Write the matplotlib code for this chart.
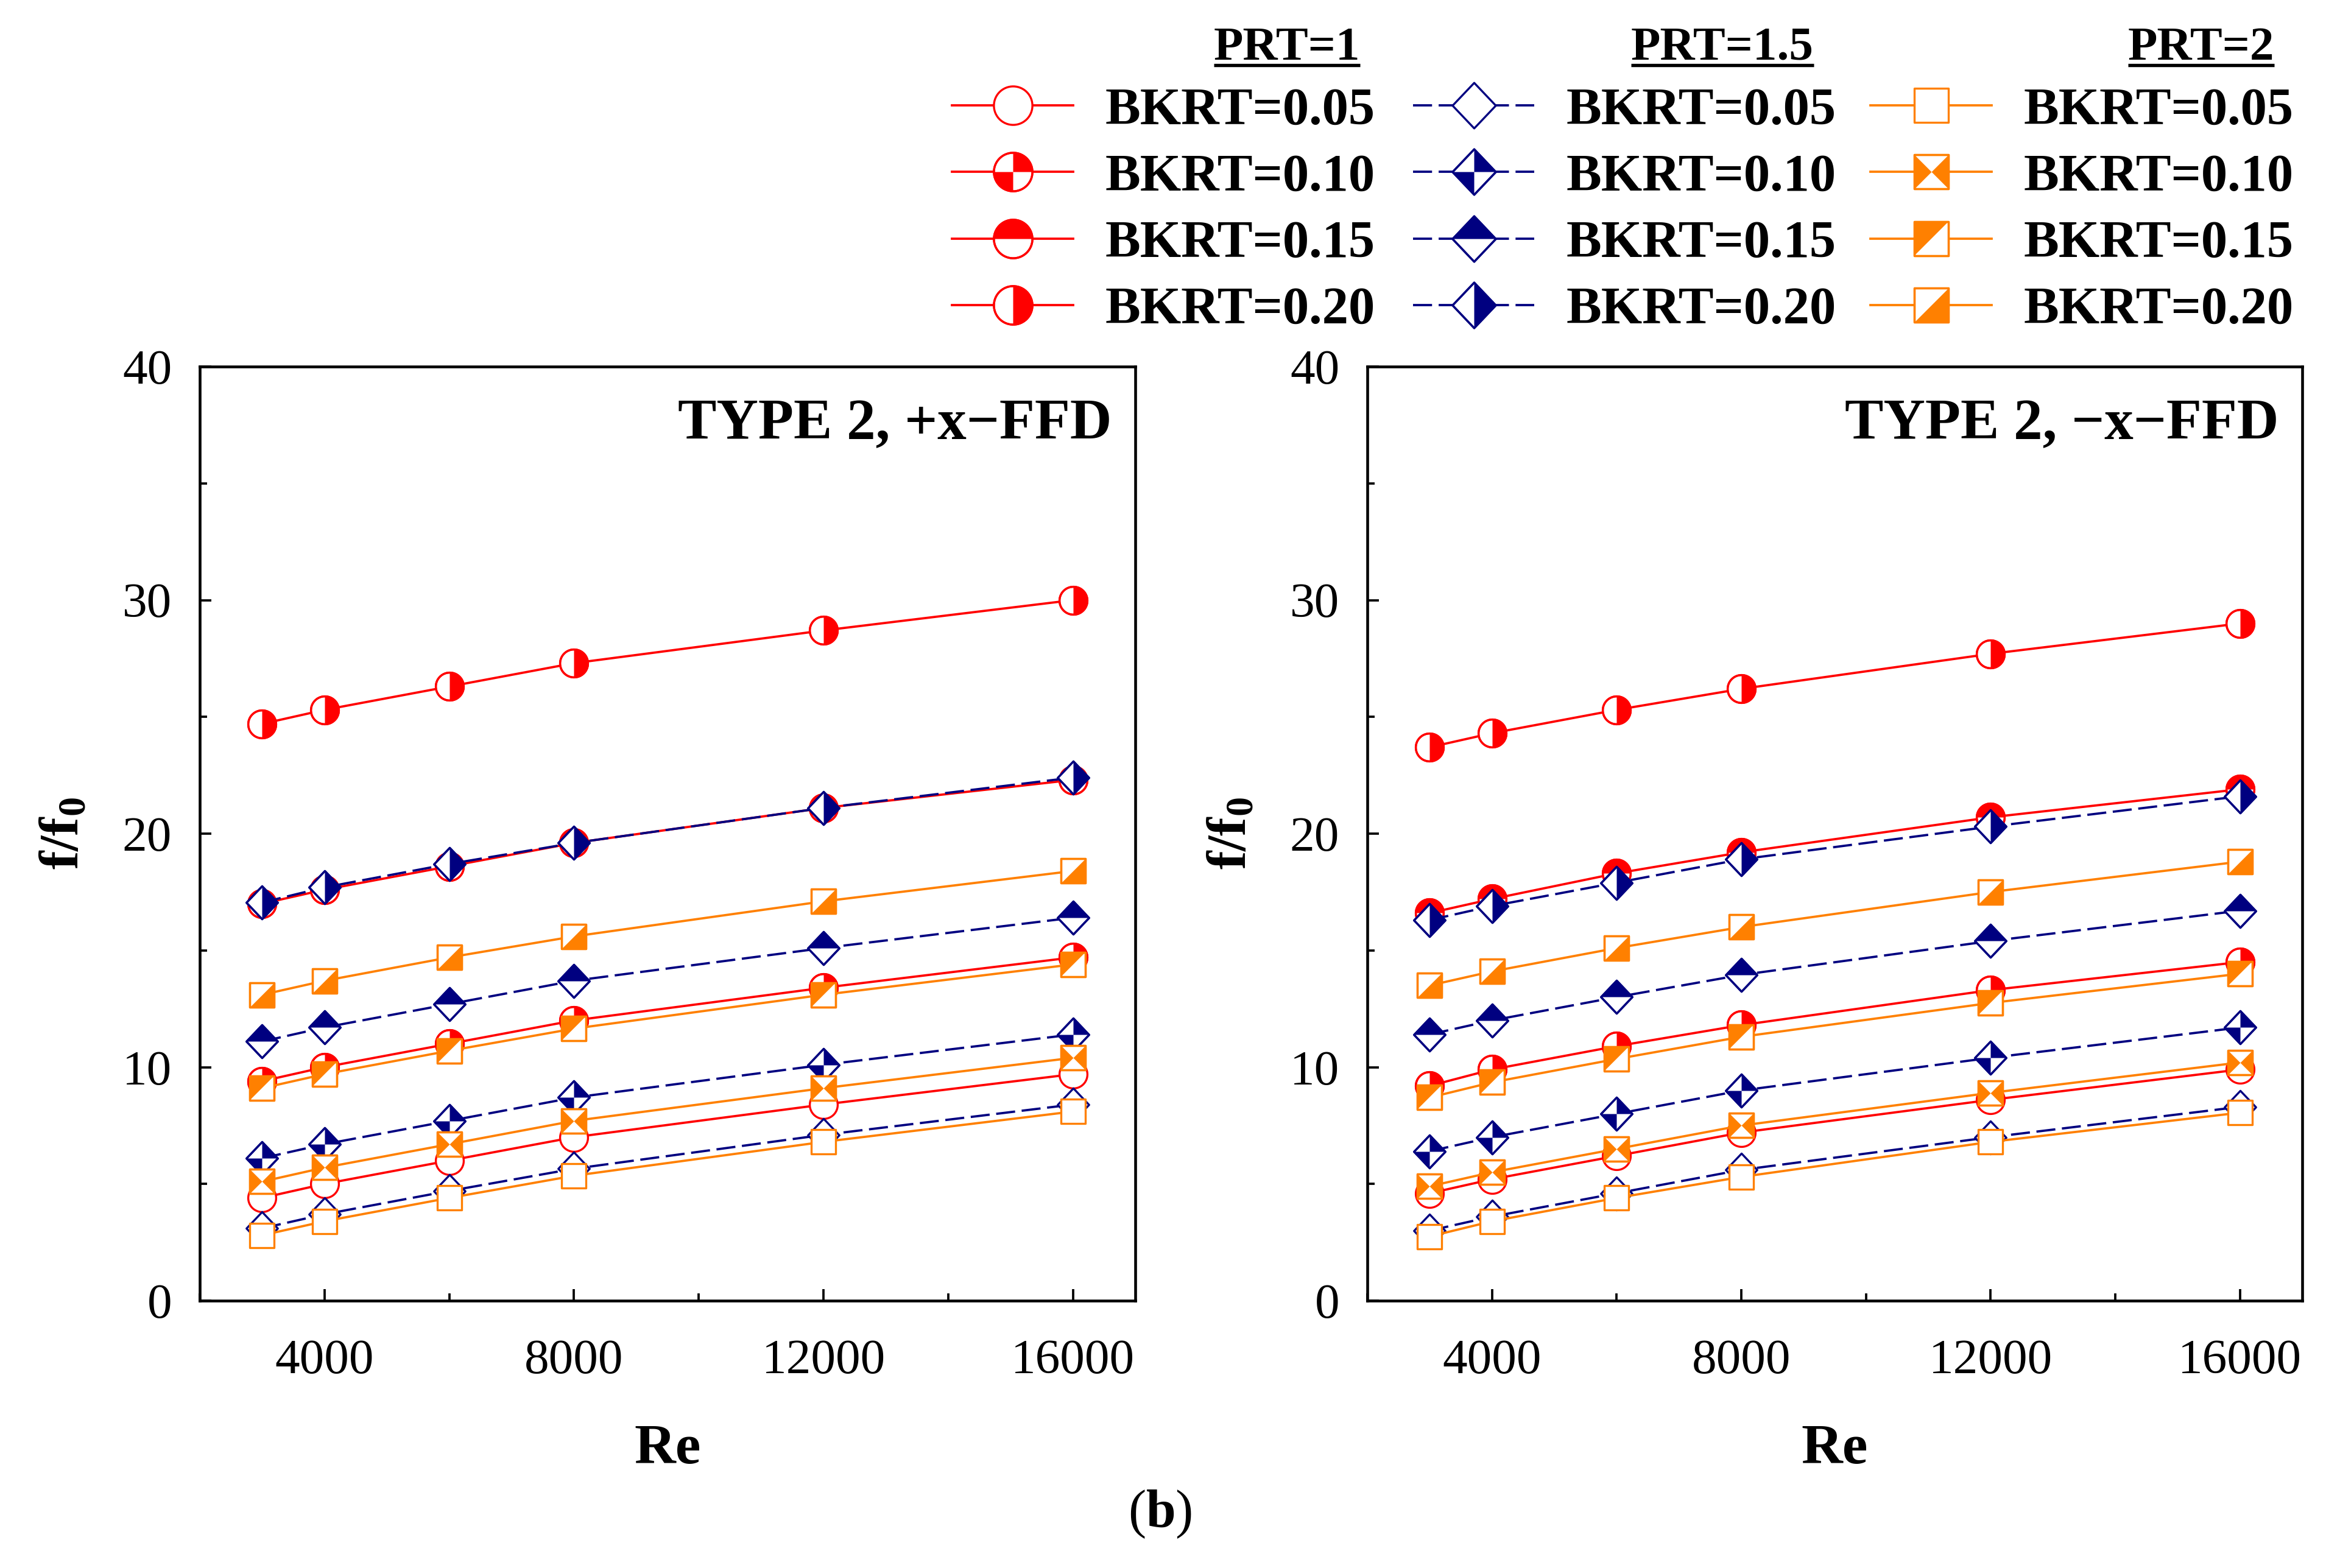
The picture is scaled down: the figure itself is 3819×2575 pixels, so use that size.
import numpy as np
import matplotlib
matplotlib.use("Agg")
import matplotlib.pyplot as plt
from matplotlib.path import Path
from matplotlib.lines import Line2D
from matplotlib.ticker import MultipleLocator

plt.rcParams["font.family"] = ["Liberation Serif", "DejaVu Serif"]
plt.rcParams["mathtext.fontset"] = "custom"
plt.rcParams["mathtext.rm"] = "Liberation Serif"
plt.rcParams["mathtext.bf"] = "Liberation Serif:bold"
plt.rcParams["mathtext.it"] = "Liberation Serif:italic"
plt.rcParams["lines.scale_dashes"] = False

# ---- data -------------------------------------------------------------
re_vals = [3000, 4000, 6000, 8000, 12000, 16000]
bkrt_labels = ["BKRT=0.05", "BKRT=0.10", "BKRT=0.15", "BKRT=0.20"]
prt_labels = ["PRT=1", "PRT=1.5", "PRT=2"]
panel_titles = ["TYPE 2, +x\u2212FFD", "TYPE 2, \u2212x\u2212FFD"]

# rows: BKRT = 0.05, 0.10, 0.15, 0.20
plus_prt1 = [[4.4, 5.0, 6.0, 7.0, 8.4, 9.7],
             [9.4, 10.0, 11.0, 12.0, 13.4, 14.7],
             [17.0, 17.6, 18.6, 19.6, 21.1, 22.3],
             [24.7, 25.3, 26.3, 27.3, 28.7, 30.0]]
plus_prt15 = [[3.1, 3.7, 4.7, 5.65, 7.1, 8.4],
              [6.1, 6.7, 7.7, 8.7, 10.1, 11.4],
              [11.1, 11.7, 12.7, 13.7, 15.1, 16.4],
              [17.05, 17.7, 18.7, 19.6, 21.1, 22.4]]
plus_prt2 = [[2.8, 3.4, 4.4, 5.35, 6.8, 8.1],
             [5.1, 5.7, 6.7, 7.7, 9.1, 10.4],
             [9.1, 9.7, 10.7, 11.65, 13.1, 14.4],
             [13.1, 13.7, 14.7, 15.6, 17.1, 18.4]]

minus_prt1 = [[4.6, 5.2, 6.2, 7.2, 8.6, 9.9],
              [9.2, 9.9, 10.9, 11.8, 13.3, 14.5],
              [16.6, 17.2, 18.3, 19.2, 20.7, 21.9],
              [23.7, 24.3, 25.3, 26.2, 27.7, 29.0]]
minus_prt15 = [[3.0, 3.6, 4.6, 5.6, 7.0, 8.3],
               [6.4, 7.0, 8.0, 9.0, 10.4, 11.7],
               [11.4, 12.0, 13.0, 13.95, 15.4, 16.7],
               [16.3, 16.9, 17.9, 18.9, 20.3, 21.6]]
minus_prt2 = [[2.75, 3.4, 4.4, 5.3, 6.8, 8.05],
              [4.9, 5.5, 6.5, 7.5, 8.9, 10.2],
              [8.7, 9.35, 10.35, 11.3, 12.75, 14.0],
              [13.5, 14.1, 15.1, 16.0, 17.5, 18.8]]

RED, NAVY, ORANGE = "#FF0000", "#000080", "#FF8000"


# ---- marker shapes ------------------------------------------------------
def _poly(pts):
    pts = list(pts) + [pts[0]]
    codes = [Path.MOVETO] + [Path.LINETO] * (len(pts) - 2) + [Path.CLOSEPOLY]
    return Path(pts, codes)


def _sector(a0, a1):
    t = np.linspace(np.radians(a0), np.radians(a1), 40)
    return _poly([(0.0, 0.0)] + [(np.cos(v), np.sin(v)) for v in t])


def _arc_poly(a0, a1):
    t = np.linspace(np.radians(a0), np.radians(a1), 60)
    return _poly([(np.cos(v), np.sin(v)) for v in t])


DW = 0.95  # diamond half width vs half height
circle_out = _arc_poly(0, 360)
diamond_out = _poly([(0, 1), (DW, 0), (0, -1), (-DW, 0)])
square_out = _poly([(-1, -1), (-1, 1), (1, 1), (1, -1)])

circle_fill = [None,
               Path.make_compound_path(_sector(0, 90), _sector(180, 270)),
               _arc_poly(0, 180),
               _arc_poly(-90, 90)]
diamond_fill = [None,
                Path.make_compound_path(_poly([(0, 0), (0, 1), (DW, 0)]),
                                        _poly([(0, 0), (0, -1), (-DW, 0)])),
                _poly([(-DW, 0), (0, 1), (DW, 0)]),
                _poly([(0, 1), (DW, 0), (0, -1)])]
square_fill = [None,
               Path.make_compound_path(_poly([(-1, -1), (-1, 1), (0, 0)]),
                                       _poly([(1, 1), (1, -1), (0, 0)])),
               _poly([(-1, -1), (-1, 1), (1, 1)]),
               _poly([(-1, -1), (1, 1), (1, -1)])]

groups = [
    dict(color=RED, ls="-", outline=circle_out, fills=circle_fill, ms=11.0),
    dict(color=NAVY, ls=(0, (7.5, 2.6)), outline=diamond_out, fills=diamond_fill, ms=13.0),
    dict(color=ORANGE, ls="-", outline=square_out, fills=square_fill, ms=9.8),
]

LW = 0.9
MEW = 0.8


def draw_series(ax, y, g, k, z):
    col = g["color"]
    line, = ax.plot(re_vals, y, color=col, ls=g["ls"], lw=LW, zorder=z,
                    marker=g["outline"], ms=g["ms"], mfc="white", mec=col, mew=MEW)
    parts = [line]
    if g["fills"][k] is not None:
        f, = ax.plot(re_vals, y, ls="none", marker=g["fills"][k], ms=g["ms"],
                     mfc=col, mec="none", mew=0, zorder=z + 0.1)
        parts.append(f)
        o, = ax.plot(re_vals, y, ls="none", marker=g["outline"], ms=g["ms"],
                     mfc="none", mec=col, mew=MEW, zorder=z + 0.2)
        parts.append(o)
    return tuple(parts)


W, H = 3819, 2575
fig = plt.figure(figsize=(W / 300, H / 300), dpi=300)
ax_l = fig.add_axes([328 / W, 1 - 2136 / H, 1536 / W, 1534 / H])
ax_r = fig.add_axes([2245 / W, 1 - 2136 / H, 1535 / W, 1534 / H])

panels = [(ax_l, [plus_prt1, plus_prt15, plus_prt2]),
          (ax_r, [minus_prt1, minus_prt15, minus_prt2])]

handles = None
for pi, (ax, datasets) in enumerate(panels):
    hs = []
    z = 2
    for gi, g in enumerate(groups):
        col_h = []
        for k in range(4):
            col_h.append(draw_series(ax, datasets[gi][k], g, k, z))
            z += 1
        hs.append(col_h)
    if handles is None:
        handles = hs

    ax.set_xlim(2000, 17000)
    ax.set_ylim(0, 40)
    ax.xaxis.set_major_locator(MultipleLocator(4000))
    ax.xaxis.set_minor_locator(MultipleLocator(2000))
    ax.yaxis.set_major_locator(MultipleLocator(10))
    ax.yaxis.set_minor_locator(MultipleLocator(5))
    ax.tick_params(which="both", direction="in", top=False, right=False,
                   width=0.9, labelsize=19.5)
    ax.tick_params(which="major", length=4.6)
    ax.tick_params(which="minor", length=2.8)
    ax.tick_params(axis="x", pad=15)
    ax.tick_params(axis="y", pad=11)
    for s in ax.spines.values():
        s.set_linewidth(1.1)
    ax.set_xlabel("Re", fontsize=22.5, fontweight="bold", labelpad=16)
    ax.set_ylabel(r"$\mathbf{f/f_0}$", fontsize=22, labelpad=13)
    ax.text(0.975, 0.922, panel_titles[pi], transform=ax.transAxes,
            ha="right", va="baseline", fontsize=22.8, fontweight="bold")

# ---- legend: one block per PRT -----------------------------------------
leg_x = [1563 / W, 2320 / W, 3071 / W]
for gi in range(3):
    fig.legend(handles[gi], bkrt_labels, loc="upper left",
               bbox_to_anchor=(leg_x[gi], 1 - 143 / H),
               bbox_transform=fig.transFigure, frameon=False,
               prop=dict(size=20.8, weight="bold"),
               handlelength=2.3, handletextpad=0.6, labelspacing=0.34,
               borderpad=0, borderaxespad=0, markerscale=1.38)

hdr_x = [2113 / W, 2828 / W, 3614 / W]
hdr_texts = []
for gi, lab in enumerate(prt_labels):
    t = fig.text(hdr_x[gi], 1 - 98 / H, lab, ha="center", va="baseline",
                 fontsize=19, fontweight="bold")
    hdr_texts.append(t)

fig.text(1905 / W, 1 - 2508 / H, r"($\mathbf{b}$)", ha="center", va="baseline",
         fontsize=21)

fig.canvas.draw()
inv = fig.transFigure.inverted()
for t in hdr_texts:
    bb = t.get_window_extent()
    (x0, _), (x1, _) = inv.transform([(bb.x0, 0), (bb.x1, 0)])
    yline = 1 - 107 / H
    fig.add_artist(Line2D([x0, x1], [yline, yline], transform=fig.transFigure,
                          color="black", lw=1.3, solid_capstyle="butt"))

fig.savefig("out.png", dpi=300)
